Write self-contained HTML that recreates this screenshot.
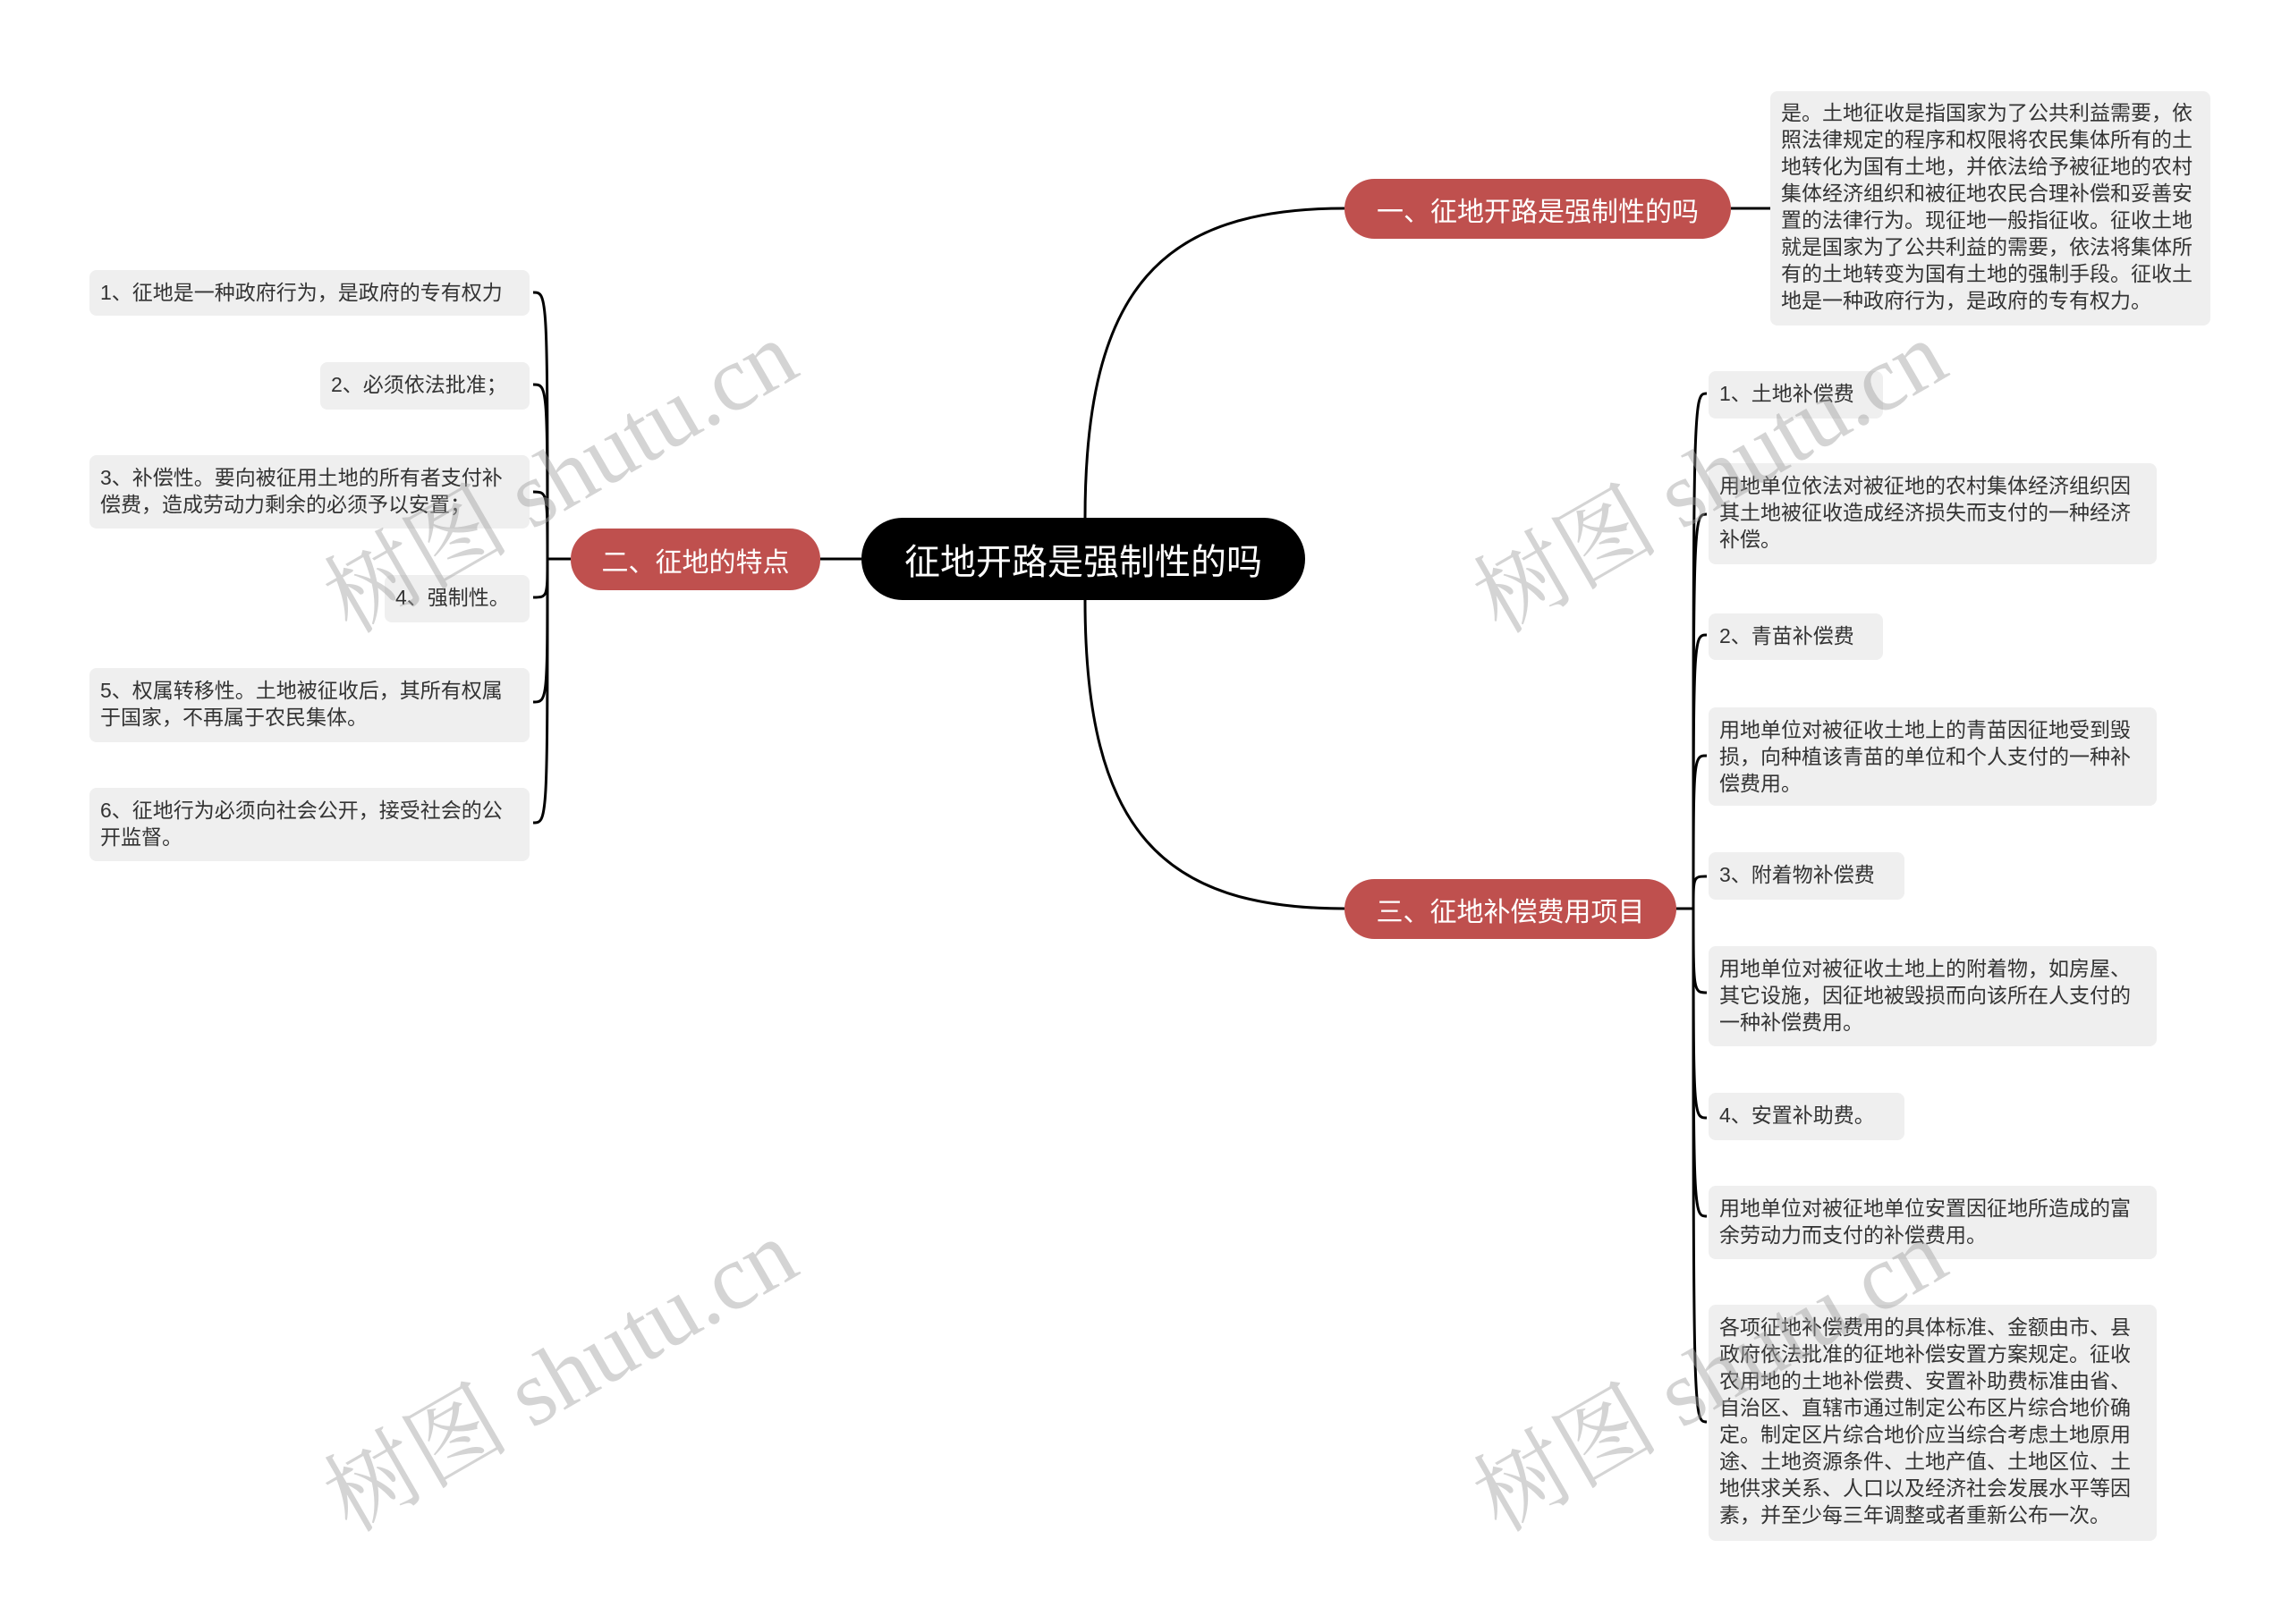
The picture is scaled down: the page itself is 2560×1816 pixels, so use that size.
<!DOCTYPE html>
<html><head><meta charset="utf-8"><style>
html,body{margin:0;padding:0;background:#fff}
body{width:2560px;height:1816px;position:relative;overflow:hidden;font-family:"Liberation Sans","Noto Sans CJK SC",sans-serif}
.n{position:absolute;box-sizing:border-box;white-space:nowrap}
.c{background:#000;color:#fff;border-radius:46px;font-size:40px;display:flex;align-items:center;justify-content:center}
.b{background:#bf504e;color:#fff;border-radius:34px;font-size:30px;display:flex;align-items:center;justify-content:center}
.l{background:#efefef;color:#333;border-radius:8px;font-size:23px;line-height:30px;padding:10px 12px}
.r{text-align:right}
.w{position:absolute;font-family:"Liberation Serif","Noto Serif CJK SC",serif;font-size:104px;color:rgba(160,160,160,0.45);transform:rotate(-30deg);white-space:nowrap}
</style></head><body>
<svg width="2560" height="1816" style="position:absolute;left:0;top:0" fill="none" stroke="#000" stroke-width="3">
<path d="M1213 579 C1213 320 1300 233 1503 233"/>
<path d="M1213 671 C1213 930 1300 1016 1503 1016"/>
<path d="M963 625 L917 625"/>
<path d="M1935 233 L1979 233"/>
<path d="M638 625 L612 625"/>
<path d="M612 625 C612 327 612 327 596 327"/>
<path d="M612 625 C612 430 612 430 596 430"/>
<path d="M612 625 C612 550 612 550 596 550"/>
<path d="M612 625 C612 668 612 668 596 668"/>
<path d="M612 625 C612 785 612 785 596 785"/>
<path d="M612 625 C612 920 612 920 596 920"/>
<path d="M1874 1016 L1893 1016"/>
<path d="M1893 1016 C1893 440 1893 440 1908 440"/>
<path d="M1893 1016 C1893 575 1893 575 1908 575"/>
<path d="M1893 1016 C1893 710 1893 710 1908 710"/>
<path d="M1893 1016 C1893 845 1893 845 1908 845"/>
<path d="M1893 1016 C1893 980 1893 980 1908 980"/>
<path d="M1893 1016 C1893 1110 1893 1110 1908 1110"/>
<path d="M1893 1016 C1893 1250 1893 1250 1908 1250"/>
<path d="M1893 1016 C1893 1360 1893 1360 1908 1360"/>
<path d="M1893 1016 C1893 1590 1893 1590 1908 1590"/>
</svg>

<div class="n c" style="left:963px;top:579px;width:496px;height:92px">征地开路是强制性的吗</div>
<div class="n b" style="left:1503px;top:200px;width:432px;height:67px">一、征地开路是强制性的吗</div>
<div class="n b" style="left:638px;top:591px;width:279px;height:69px">二、征地的特点</div>
<div class="n b" style="left:1503px;top:983px;width:371px;height:67px">三、征地补偿费用项目</div>

<div class="n l" style="left:1979px;top:102px;width:492px;height:262px;padding-top:9px">是。土地征收是指国家为了公共利益需要，依<br>照法律规定的程序和权限将农民集体所有的土<br>地转化为国有土地，并依法给予被征地的农村<br>集体经济组织和被征地农民合理补偿和妥善安<br>置的法律行为。现征地一般指征收。征收土地<br>就是国家为了公共利益的需要，依法将集体所<br>有的土地转变为国有土地的强制手段。征收土<br>地是一种政府行为，是政府的专有权力。</div>

<div class="n l" style="left:100px;top:302px;width:492px;height:51px">1、征地是一种政府行为，是政府的专有权力</div>
<div class="n l" style="left:358px;top:405px;width:234px;height:53px">2、必须依法批准；</div>
<div class="n l" style="left:100px;top:509px;width:492px;height:82px">3、补偿性。要向被征用土地的所有者支付补<br>偿费，造成劳动力剩余的必须予以安置；</div>
<div class="n l" style="left:430px;top:643px;width:162px;height:53px">4、强制性。</div>
<div class="n l" style="left:100px;top:747px;width:492px;height:83px">5、权属转移性。土地被征收后，其所有权属<br>于国家，不再属于农民集体。</div>
<div class="n l" style="left:100px;top:881px;width:492px;height:82px">6、征地行为必须向社会公开，接受社会的公<br>开监督。</div>

<div class="n l" style="left:1910px;top:415px;width:195px;height:53px">1、土地补偿费</div>
<div class="n l" style="left:1910px;top:518px;width:501px;height:113px">用地单位依法对被征地的农村集体经济组织因<br>其土地被征收造成经济损失而支付的一种经济<br>补偿。</div>
<div class="n l" style="left:1910px;top:686px;width:195px;height:52px">2、青苗补偿费</div>
<div class="n l" style="left:1910px;top:791px;width:501px;height:110px">用地单位对被征收土地上的青苗因征地受到毁<br>损，向种植该青苗的单位和个人支付的一种补<br>偿费用。</div>
<div class="n l" style="left:1910px;top:953px;width:219px;height:53px">3、附着物补偿费</div>
<div class="n l" style="left:1910px;top:1058px;width:501px;height:112px">用地单位对被征收土地上的附着物，如房屋、<br>其它设施，因征地被毁损而向该所在人支付的<br>一种补偿费用。</div>
<div class="n l" style="left:1910px;top:1222px;width:219px;height:53px">4、安置补助费。</div>
<div class="n l" style="left:1910px;top:1326px;width:501px;height:82px">用地单位对被征地单位安置因征地所造成的富<br>余劳动力而支付的补偿费用。</div>
<div class="n l" style="left:1910px;top:1459px;width:501px;height:264px">各项征地补偿费用的具体标准、金额由市、县<br>政府依法批准的征地补偿安置方案规定。征收<br>农用地的土地补偿费、安置补助费标准由省、<br>自治区、直辖市通过制定公布区片综合地价确<br>定。制定区片综合地价应当综合考虑土地原用<br>途、土地资源条件、土地产值、土地区位、土<br>地供求关系、人口以及经济社会发展水平等因<br>素，并至少每三年调整或者重新公布一次。</div>

<div class="w" style="left:330px;top:450px">树图 shutu.cn</div>
<div class="w" style="left:330px;top:1455px">树图 shutu.cn</div>
<div class="w" style="left:1615px;top:450px">树图 shutu.cn</div>
<div class="w" style="left:1615px;top:1455px">树图 shutu.cn</div>
</body></html>
